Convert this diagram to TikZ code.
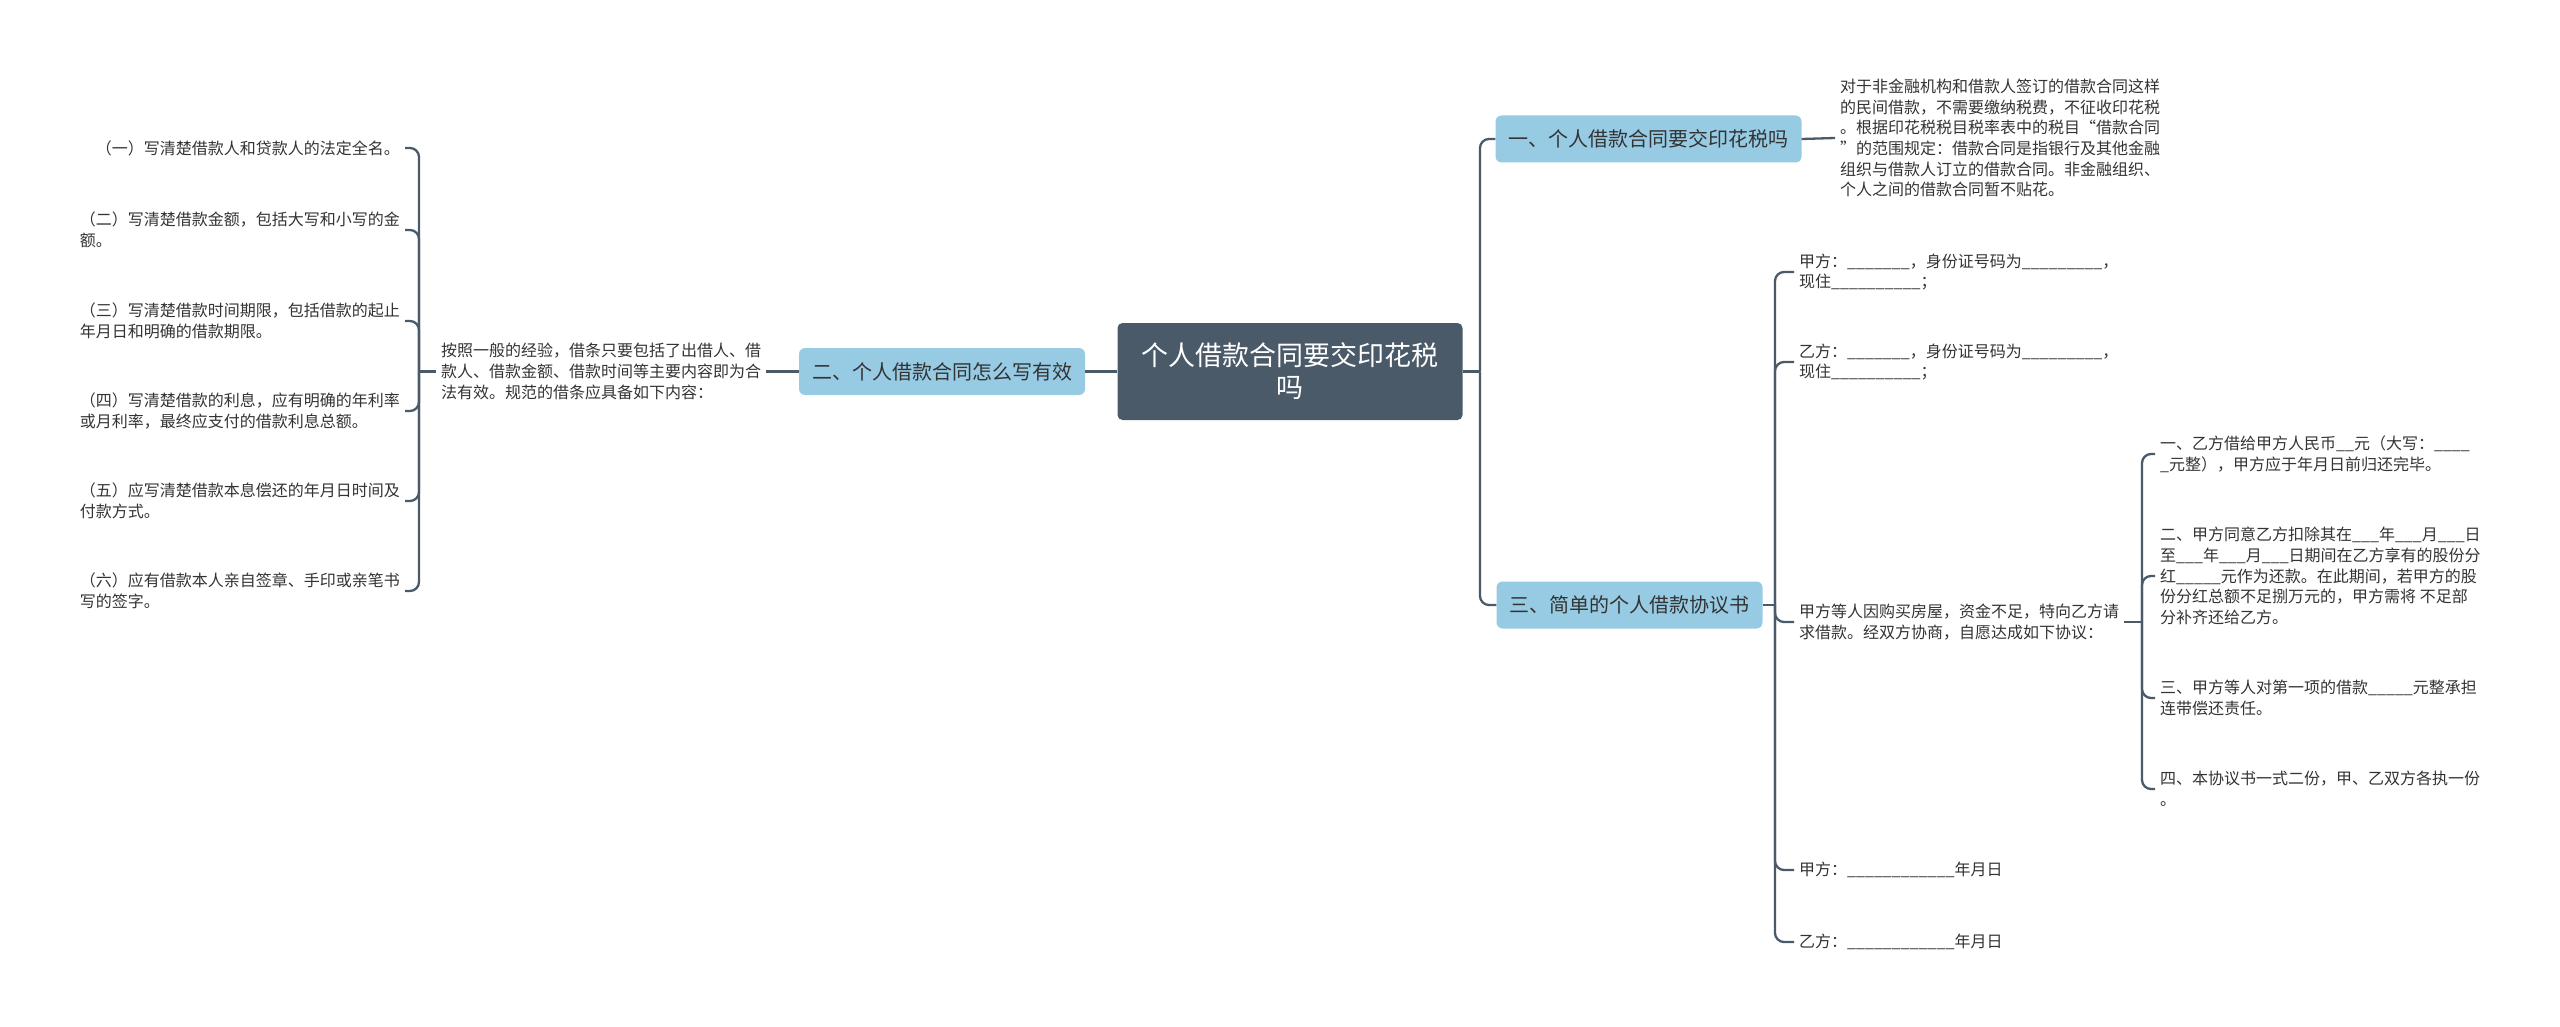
\documentclass[tikz,border=0pt]{standalone}
\usepackage{fontspec}
\setmainfont{Noto Sans CJK SC}
\usepackage{tikz}
\usepackage{xcolor}
\definecolor{rootfill}{HTML}{4B5A69}
\definecolor{topicfill}{HTML}{97CBE4}
\definecolor{linkcol}{HTML}{4B5A69}
\definecolor{txtcol}{HTML}{333333}

\begin{document}
\begin{tikzpicture}[x=1pt, y=-1pt,
  rootbox/.style={fill=rootfill, rounded corners=5pt, text=white, align=center,
    minimum width=345pt, minimum height=97pt, inner sep=0pt,
    font=\fontsize{27}{32}\selectfont},
  topicbox/.style={fill=topicfill, rounded corners=6pt, text=txtcol,
    minimum height=47pt, inner xsep=13pt, inner ysep=0pt,
    font=\fontsize{20}{24}\selectfont},
  leaftext/.style={align=left, text=txtcol, inner xsep=5pt, inner ysep=2pt,
    font=\fontsize{16}{20.7}\selectfont},
  link/.style={draw=linkcol, line width=2.3pt},
  branch/.style={link, rounded corners=9pt}]
\useasboundingbox (0,0) rectangle (2560,1027);

% central topic
\node[rootbox] (root) at (1290,371.5) {个人借款合同要交印花税\\吗};

% left side
\node[topicbox] (write) at (942,371.5) {二、个人借款合同怎么写有效};
\node[leaftext, anchor=west] (howtxt) at (436,371.5) {按照一般的经验，借条只要包括了出借人、借\\款人、借款金额、借款时间等主要内容即为合\\法有效。规范的借条应具备如下内容：};

\node[leaftext, anchor=east] (item1) at (405,148) {（一）写清楚借款人和贷款人的法定全名。};
\node[leaftext, anchor=east] (item2) at (405,230) {（二）写清楚借款金额，包括大写和小写的金\\额。};
\node[leaftext, anchor=east] (item3) at (405,321) {（三）写清楚借款时间期限，包括借款的起止\\年月日和明确的借款期限。};
\node[leaftext, anchor=east] (item4) at (405,411) {（四）写清楚借款的利息，应有明确的年利率\\或月利率，最终应支付的借款利息总额。};
\node[leaftext, anchor=east] (item5) at (405,501) {（五）应写清楚借款本息偿还的年月日时间及\\付款方式。};
\node[leaftext, anchor=east] (item6) at (405,591) {（六）应有借款本人亲自签章、手印或亲笔书\\写的签字。};

% right side
\node[topicbox] (tax) at (1648.5,139) {一、个人借款合同要交印花税吗};
\node[leaftext, anchor=west] (taxtxt) at (1835,138) {对于非金融机构和借款人签订的借款合同这样\\的民间借款，不需要缴纳税费，不征收印花税\\。根据印花税税目税率表中的税目“借款合同\\”的范围规定：借款合同是指银行及其他金融\\组织与借款人订立的借款合同。非金融组织、\\个人之间的借款合同暂不贴花。};

\node[topicbox] (deal) at (1629.5,605) {三、简单的个人借款协议书};
\node[leaftext, anchor=west] (pa) at (1794,272) {甲方：\_\_\_\_\_\_\_，身份证号码为\_\_\_\_\_\_\_\_\_，\\现住\_\_\_\_\_\_\_\_\_\_；};
\node[leaftext, anchor=west] (pb) at (1794,362) {乙方：\_\_\_\_\_\_\_，身份证号码为\_\_\_\_\_\_\_\_\_，\\现住\_\_\_\_\_\_\_\_\_\_；};
\node[leaftext, anchor=west] (pc) at (1794,622) {甲方等人因购买房屋，资金不足，特向乙方请\\求借款。经双方协商，自愿达成如下协议：};
\node[leaftext, anchor=west] (pd) at (1794,870) {甲方：\_\_\_\_\_\_\_\_\_\_\_\_年月日};
\node[leaftext, anchor=west] (pe) at (1794,942) {乙方：\_\_\_\_\_\_\_\_\_\_\_\_年月日};

\node[leaftext, anchor=west] (c1) at (2155,454) {一、乙方借给甲方人民币\_\_元（大写：\_\_\_\_\\\_元整），甲方应于年月日前归还完毕。};
\node[leaftext, anchor=west] (c2) at (2155,576) {二、甲方同意乙方扣除其在\_\_\_年\_\_\_月\_\_\_日\\至\_\_\_年\_\_\_月\_\_\_日期间在乙方享有的股份分\\红\_\_\_\_\_元作为还款。在此期间，若甲方的股\\份分红总额不足捌万元的，甲方需将 不足部\\分补齐还给乙方。};
\node[leaftext, anchor=west] (c3) at (2155,698) {三、甲方等人对第一项的借款\_\_\_\_\_元整承担\\连带偿还责任。};
\node[leaftext, anchor=west] (c4) at (2155,789) {四、本协议书一式二份，甲、乙双方各执一份\\。};

% connectors
\draw[link] (root.west) -- (write.east);
\draw[link] (write.west) -- (howtxt.east);
\coordinate (ls) at (419,371.5);
\draw[link] (howtxt.west) -- (ls);
\foreach \n in {item1,item2,item3,item4,item5,item6}
  \draw[branch] (ls) |- (\n.east);

\coordinate (rs) at (1480,371.5);
\draw[link] (root.east) -- (rs);
\draw[branch] (rs) |- (tax.west);
\draw[branch] (rs) |- (deal.west);
\draw[link] (tax.east) -- (taxtxt.west);

\coordinate (ds) at (1775,605);
\draw[link] (deal.east) -- (ds);
\foreach \n in {pa,pb,pc,pd,pe}
  \draw[branch] (ds) |- (\n.west);

\coordinate (cs) at (2142,622);
\draw[link] (pc.east) -- (cs);
\foreach \n in {c1,c2,c3,c4}
  \draw[branch] (cs) |- (\n.west);
\end{tikzpicture}
\end{document}
